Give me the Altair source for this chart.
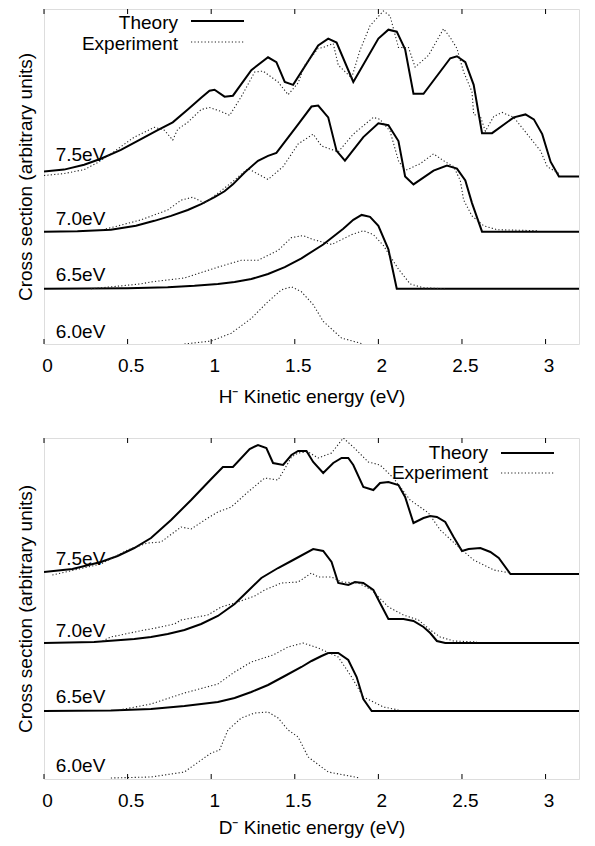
import altair as alt
import pandas as pd

FONT = "Liberation Sans"
TICKS = [0, 0.5, 1, 1.5, 2, 2.5, 3]

# ---------------- H- panel (top) ----------------
h75_th_x = [0, 0.12, 0.24, 0.34, 0.46, 0.58, 0.68, 0.77, 0.86, 0.94, 0.99, 1.02, 1.08, 1.13, 1.24, 1.34, 1.39, 1.44, 1.49, 1.64,
            1.70, 1.75, 1.85, 2.00, 2.06, 2.11, 2.16, 2.21, 2.27, 2.43, 2.47, 2.52, 2.57, 2.62, 2.68, 2.81, 2.88, 2.93, 2.98, 3.03,
            3.08, 3.2]
h75_th_y = [175, 177, 182, 188, 197, 208, 217, 225, 238, 250, 257, 258, 251, 252, 278, 291, 286, 266, 263, 303,
            310, 306, 266, 310, 319, 317, 299, 254, 254, 290, 292, 286, 263, 214, 214, 230, 233, 228, 213, 185,
            170, 170]
h75_ex_x = [0, 0.12, 0.24, 0.32, 0.40, 0.54, 0.66, 0.72, 0.77, 0.80, 0.86, 0.94, 0.99, 1.06, 1.11, 1.18, 1.26, 1.31, 1.40, 1.46,
            1.52, 1.56, 1.64, 1.67, 1.73, 1.76, 1.84, 1.89, 1.95, 2.03, 2.07, 2.12, 2.18, 2.22, 2.30, 2.39, 2.43, 2.47, 2.51, 2.56,
            2.57, 2.61, 2.64, 2.69, 2.74, 2.81, 2.89, 2.97, 3.01, 3.09]
h75_ex_y = [171, 173, 177, 184, 193, 210, 220, 217, 207, 218, 225, 238, 240, 236, 232, 251, 276, 277, 266, 253,
            265, 283, 300, 301, 305, 283, 270, 298, 323, 338, 333, 301, 301, 281, 293, 320, 311, 300, 276, 256,
            233, 231, 216, 231, 235, 230, 213, 196, 180, 172]
h70_th_x = [0, 0.20, 0.40, 0.55, 0.66, 0.76, 0.86, 0.94, 1.02, 1.08, 1.13, 1.20, 1.28, 1.34, 1.39, 1.52, 1.60, 1.64, 1.70, 1.75,
            1.80, 1.91, 2.00, 2.06, 2.12, 2.16, 2.21, 2.33, 2.41, 2.47, 2.52, 2.56, 2.62, 3.2]
h70_th_y = [114, 114.5, 116, 120, 125, 130, 136, 142, 149, 155, 162, 174, 186, 191, 194, 223, 241, 242, 230, 196,
            186, 210, 224, 222, 206, 170, 162, 176, 181, 178, 166, 143, 114, 114]
h70_ex_x = [0.35, 0.40, 0.58, 0.74, 0.82, 0.89, 0.96, 1.04, 1.13, 1.22, 1.34, 1.43, 1.52, 1.61, 1.66, 1.76, 1.85, 1.97, 2.01, 2.07,
            2.12, 2.16, 2.25, 2.33, 2.39, 2.45, 2.49, 2.51, 2.56, 2.63, 2.71, 2.95]
h70_ex_y = [116, 118, 126, 136, 146, 149, 143, 153, 165, 178, 167, 180, 203, 213, 201, 195, 213, 230, 228, 216,
            186, 176, 183, 193, 186, 180, 166, 146, 130, 120, 116, 115]
h65_th_x = [0, 0.50, 0.74, 0.90, 1.04, 1.14, 1.24, 1.34, 1.44, 1.54, 1.67, 1.79, 1.85, 1.90, 1.95, 2.00, 2.06, 2.11, 3.2]
h65_th_y = [56, 56.5, 57.5, 59, 61, 63, 66, 71, 78, 87, 101, 117, 126, 131, 129, 120, 96, 56, 56]
h65_ex_x = [0.28, 0.58, 0.64, 0.84, 1.04, 1.18, 1.28, 1.40, 1.48, 1.55, 1.61, 1.72, 1.84, 1.91, 1.97, 2.03, 2.12, 2.19, 2.27, 2.41]
h65_ex_y = [56, 61, 63, 67, 78, 85, 85, 95, 108, 110, 106, 101, 111, 115, 111, 100, 76, 61, 57, 56]
h60_ex_x = [0.84, 1.0, 1.12, 1.24, 1.34, 1.42, 1.48, 1.54, 1.61, 1.67, 1.78, 1.91]
h60_ex_y = [0, 3, 11, 26, 43, 55, 58, 53, 40, 23, 6, 0]

# ---------------- D- panel (bottom) ----------------
d75_th_x = [0, 0.17, 0.34, 0.44, 0.54, 0.64, 0.76, 0.88, 1.0, 1.07, 1.13, 1.23, 1.28, 1.33, 1.37, 1.43, 1.48, 1.52, 1.57, 1.61,
            1.67, 1.73, 1.78, 1.82, 1.85, 1.91, 1.97, 2.01, 2.06, 2.12, 2.16, 2.21, 2.27, 2.31, 2.35, 2.40, 2.45, 2.50, 2.54, 2.61,
            2.67, 2.72, 2.79, 3.2]
d75_th_y = [207, 210, 217, 223, 231, 241, 259, 279, 300, 312, 312, 330, 334, 331, 316, 314, 324, 328, 328, 317,
            306, 316, 321, 321, 314, 292, 289, 296, 297, 294, 282, 256, 261, 263, 262, 257, 242, 228, 230, 231,
            227, 221, 205, 205]
d75_ex_x = [0.05, 0.34, 0.50, 0.62, 0.70, 0.82, 0.88, 0.98, 1.04, 1.12, 1.22, 1.32, 1.40, 1.46, 1.48, 1.52, 1.58, 1.64, 1.72, 1.79,
            1.85, 1.94, 2.01, 2.09, 2.19, 2.30, 2.37, 2.48, 2.57, 2.69, 2.79]
d75_ex_y = [204, 215, 229, 236, 237, 252, 250, 261, 267, 272, 287, 301, 299, 316, 322, 326, 327, 321, 326, 341,
            332, 317, 314, 301, 279, 266, 249, 232, 219, 209, 206]
d70_th_x = [0, 0.30, 0.54, 0.64, 0.74, 0.84, 0.94, 1.04, 1.14, 1.22, 1.30, 1.40, 1.49, 1.61, 1.67, 1.72, 1.76, 1.82, 1.86, 1.91,
            1.97, 2.01, 2.06, 2.15, 2.21, 2.27, 2.31, 2.35, 2.40, 3.2]
d70_th_y = [136, 137, 140, 142, 145, 149, 155, 163, 175, 188, 201, 211, 219, 230, 228, 217, 196, 194, 197, 196,
            189, 176, 160, 160, 158, 152, 146, 138, 136, 136]
d70_ex_x = [0.35, 0.40, 0.60, 0.64, 0.78, 0.82, 0.98, 1.06, 1.16, 1.26, 1.32, 1.42, 1.52, 1.60, 1.64, 1.72, 1.78, 1.88, 1.96, 2.06,
            2.15, 2.24, 2.31, 2.37, 2.45, 2.59]
d70_ex_y = [138, 142, 149, 150, 155, 159, 164, 172, 177, 183, 189, 196, 197, 206, 202, 202, 197, 196, 189, 172,
            164, 159, 149, 142, 138, 137]
d65_th_x = [0, 0.40, 0.64, 0.84, 1.04, 1.14, 1.24, 1.34, 1.44, 1.54, 1.60, 1.66, 1.70, 1.76, 1.82, 1.87, 1.91, 1.96, 3.2]
d65_th_y = [68, 68.5, 70, 73, 77, 81, 87, 94, 103, 112, 118, 123, 126, 126, 119, 102, 80, 68, 68]
d65_ex_x = [0.45, 0.64, 0.84, 1.04, 1.14, 1.24, 1.37, 1.46, 1.55, 1.64, 1.76, 1.84, 1.91, 2.03, 2.12]
d65_ex_y = [69, 75, 86, 95, 107, 117, 124, 132, 136, 131, 122, 102, 82, 72, 69]
d60_ex_x = [0.40, 0.64, 0.84, 0.94, 1.0, 1.05, 1.10, 1.18, 1.26, 1.34, 1.40, 1.46, 1.52, 1.58, 1.70, 1.89]
d60_ex_y = [1, 2, 7, 19, 26, 29, 49, 61, 66, 67, 61, 49, 42, 22, 7, 1]

energy_labels = ["6.0eV", "6.5eV", "7.0eV", "7.5eV"]
h_label_y = [6, 64, 121, 186]
d_label_y = [7, 76, 142, 214]
label_x = 0.07
legend_names = ["Theory", "Experiment"]


def frame(pairs):
    return pd.concat([pd.DataFrame({"x": xs, "y": ys, "curve": n}) for n, xs, ys in pairs], ignore_index=True)


def panel(th, ex, label_y, ymax, height, xtitle, leg, title_pad):
    xsc = alt.Scale(domain=[0, 3.2], nice=False, zero=False)
    ysc = alt.Scale(domain=[0, ymax], nice=False, zero=False)
    xax = alt.Axis(values=TICKS, labelExpr="'' + datum.value", ticks=False, domain=False, grid=False,
                   labelFlush=False, labelOffset=3, labelFont=FONT, labelFontSize=19, labelColor="black",
                   labelPadding=12, title=xtitle, titleFont=FONT, titleFontSize=19, titleFontWeight="normal",
                   titleColor="black", titlePadding=title_pad)
    yax = alt.Axis(labels=False, ticks=False, domain=False, grid=False,
                   title="Cross section (arbitrary units)", titleFont=FONT, titleFontSize=19,
                   titleFontWeight="normal", titleColor="black", titlePadding=9)
    X = alt.X("x:Q", scale=xsc, axis=xax)
    Y = alt.Y("y:Q", scale=ysc, axis=yax)

    th_layer = alt.Chart(th).mark_line(color="black", strokeWidth=2, clip=True).encode(
        x=X, y=Y, detail="curve:N")
    ex_layer = alt.Chart(ex).mark_line(color="#222222", strokeWidth=1.1, strokeDash=[1.2, 2.2], clip=True).encode(
        x="x:Q", y="y:Q", detail="curve:N")

    lab = pd.DataFrame({"text": energy_labels, "x": [label_x] * 4, "y": label_y})
    lab_layer = alt.Chart(lab).mark_text(align="left", baseline="alphabetic", font=FONT, fontSize=19,
                                         color="black").encode(x="x:Q", y="y:Q", text="text:N")

    tk = pd.DataFrame({"t": TICKS})
    tick_b = alt.Chart(tk).mark_rule(color="black", strokeWidth=1).encode(
        x="t:Q", y=alt.value(height), y2=alt.value(height - 5))
    tick_t = alt.Chart(tk).mark_rule(color="black", strokeWidth=1).encode(
        x="t:Q", y=alt.value(0), y2=alt.value(5))

    tx, ly, ty, lx0, lx1 = leg
    t0 = alt.Chart(pd.DataFrame({"n": [legend_names[0]]})).mark_text(
        align="right", baseline="alphabetic", font=FONT, fontSize=19, color="black").encode(
        x=alt.value(tx), y=alt.value(ty[0]), text="n:N")
    t1 = alt.Chart(pd.DataFrame({"n": [legend_names[1]]})).mark_text(
        align="right", baseline="alphabetic", font=FONT, fontSize=19, color="black").encode(
        x=alt.value(tx), y=alt.value(ty[1]), text="n:N")
    s0 = alt.Chart(pd.DataFrame({"n": [legend_names[0]]})).mark_rule(color="black", strokeWidth=2).encode(
        x=alt.value(lx0), x2=alt.value(lx1), y=alt.value(ly[0]))
    s1 = alt.Chart(pd.DataFrame({"n": [legend_names[1]]})).mark_rule(
        color="#222222", strokeWidth=1.1, strokeDash=[1.2, 2.2]).encode(
        x=alt.value(lx0), x2=alt.value(lx1), y=alt.value(ly[1]))

    return alt.layer(th_layer, ex_layer, lab_layer, tick_b, tick_t, t0, t1, s0, s1).properties(
        width=535, height=height)


h_th = frame([("7.5", h75_th_x, h75_th_y), ("7.0", h70_th_x, h70_th_y), ("6.5", h65_th_x, h65_th_y)])
h_ex = frame([("7.5", h75_ex_x, h75_ex_y), ("7.0", h70_ex_x, h70_ex_y), ("6.5", h65_ex_x, h65_ex_y),
              ("6.0", h60_ex_x, h60_ex_y)])
d_th = frame([("7.5", d75_th_x, d75_th_y), ("7.0", d70_th_x, d70_th_y), ("6.5", d65_th_x, d65_th_y)])
d_ex = frame([("7.5", d75_ex_x, d75_ex_y), ("7.0", d70_ex_x, d70_ex_y), ("6.5", d65_ex_x, d65_ex_y),
              ("6.0", d60_ex_x, d60_ex_y)])

top = panel(h_th, h_ex, h_label_y, 340, 335, "H\u207b Kinetic energy (eV)",
            (134, (12, 33), (20, 41), 147, 200), 12)
bottom = panel(d_th, d_ex, d_label_y, 341, 341, "D\u207b Kinetic energy (eV)",
               (444, (15, 35), (21, 41), 457, 510), 8)

chart = alt.vconcat(top, bottom, spacing=30).properties(
    padding={"left": 7, "top": 0, "right": 5, "bottom": 0}
).configure_view(stroke="black", strokeWidth=1.2).configure(background="white")

chart.save("out.html", embed_options={"renderer": "svg", "actions": False})
